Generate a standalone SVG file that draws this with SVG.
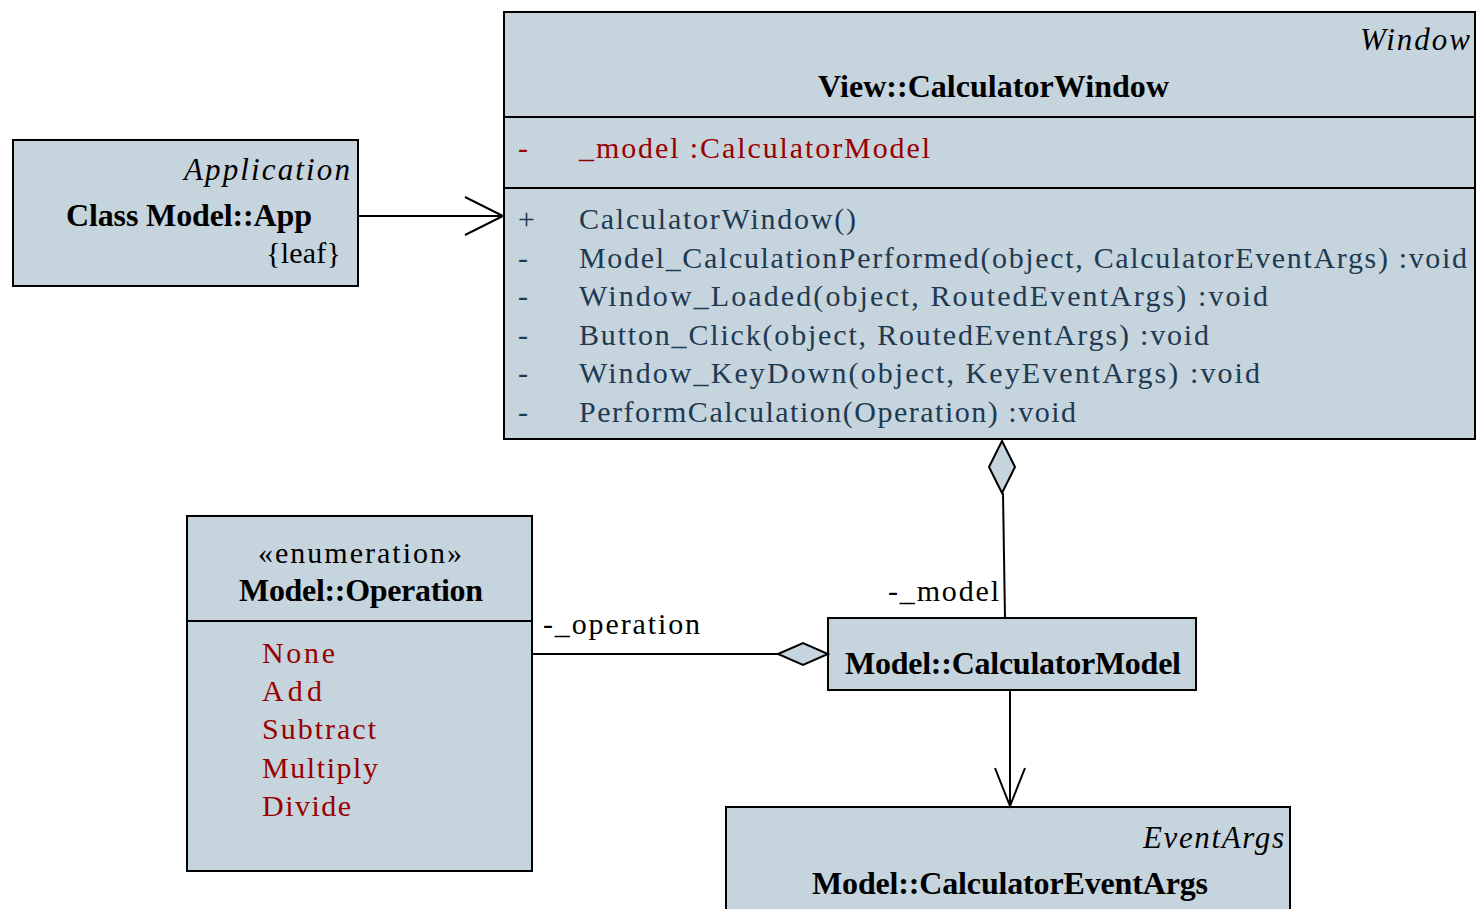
<svg xmlns="http://www.w3.org/2000/svg" width="1476" height="909" viewBox="0 0 1476 909">
<style>
.box{fill:#C6D4DD;stroke:#000;stroke-width:2}
.sep{stroke:#000;stroke-width:2}
text{font-family:"Liberation Serif","Times New Roman",serif;font-size:30px}
.it{font-style:italic;font-size:31px;fill:#000}
.b{font-weight:bold;font-size:32px;fill:#000}
.reg{fill:#000}
.attr{fill:#990000}
.op{fill:#1E3A52}
.con{stroke:#000;stroke-width:2;fill:none}
.dia{stroke:#000;stroke-width:2;fill:#C6D4DD}
</style>
<rect width="1476" height="909" fill="#fff"/>
<g id="app">
<rect class="box" x="13" y="140" width="345" height="146"/>
<text class="it" x="184" y="180" textLength="166" lengthAdjust="spacing">Application</text>
<text class="b" x="66" y="226" textLength="246" lengthAdjust="spacing">Class Model::App</text>
<text class="reg" x="266" y="263" textLength="75" lengthAdjust="spacing">{leaf}</text>
</g>
<g id="calculatorWindow">
<rect class="box" x="504" y="12" width="971" height="427"/>
<line class="sep" x1="504" y1="117" x2="1476" y2="117"/>
<line class="sep" x1="504" y1="188" x2="1476" y2="188"/>
<text class="it" x="1360" y="50" textLength="110" lengthAdjust="spacing">Window</text>
<text class="b" x="818" y="97" textLength="351" lengthAdjust="spacing">View::CalculatorWindow</text>
<text class="attr" x="518" y="158">-</text>
<text class="attr" x="579" y="158" textLength="351" lengthAdjust="spacing">_model :CalculatorModel</text>
<text class="op" x="518" y="229">+</text>
<text class="op" x="579" y="229" textLength="277" lengthAdjust="spacing">CalculatorWindow()</text>
<text class="op" x="518" y="268">-</text>
<text class="op" x="579" y="268" textLength="888" lengthAdjust="spacing">Model_CalculationPerformed(object, CalculatorEventArgs) :void</text>
<text class="op" x="518" y="306">-</text>
<text class="op" x="579" y="306" textLength="689" lengthAdjust="spacing">Window_Loaded(object, RoutedEventArgs) :void</text>
<text class="op" x="518" y="345">-</text>
<text class="op" x="579" y="345" textLength="630" lengthAdjust="spacing">Button_Click(object, RoutedEventArgs) :void</text>
<text class="op" x="518" y="383">-</text>
<text class="op" x="579" y="383" textLength="681" lengthAdjust="spacing">Window_KeyDown(object, KeyEventArgs) :void</text>
<text class="op" x="518" y="422">-</text>
<text class="op" x="579" y="422" textLength="497" lengthAdjust="spacing">PerformCalculation(Operation) :void</text>
</g>
<g id="operation">
<rect class="box" x="187" y="516" width="345" height="355"/>
<line class="sep" x1="187" y1="621" x2="532" y2="621"/>
<text class="reg" x="258" y="563" textLength="204" lengthAdjust="spacing">«enumeration»</text>
<text class="b" x="239" y="601" textLength="244" lengthAdjust="spacing">Model::Operation</text>
<text class="attr" x="262" y="663" textLength="73" lengthAdjust="spacing">None</text>
<text class="attr" x="262" y="701" textLength="60" lengthAdjust="spacing">Add</text>
<text class="attr" x="262" y="739" textLength="114" lengthAdjust="spacing">Subtract</text>
<text class="attr" x="262" y="778" textLength="116" lengthAdjust="spacing">Multiply</text>
<text class="attr" x="262" y="816" textLength="89" lengthAdjust="spacing">Divide</text>
</g>
<g id="calculatorModel">
<rect class="box" x="828" y="618" width="368" height="72"/>
<text class="b" x="845" y="674" textLength="336" lengthAdjust="spacing">Model::CalculatorModel</text>
</g>
<g id="calculatorEventArgs">
<rect class="box" x="726" y="807" width="564" height="120"/>
<text class="it" x="1143" y="848" textLength="141" lengthAdjust="spacing">EventArgs</text>
<text class="b" x="812" y="894" textLength="396" lengthAdjust="spacing">Model::CalculatorEventArgs</text>
</g>
<g id="connectors">
<line class="con" x1="358" y1="216" x2="503" y2="216"/>
<polyline class="con" points="465,197 503,216 465,235"/>
<polygon class="dia" points="1002,441 1015,467 1002,493 989,467"/>
<line class="con" x1="1003" y1="493" x2="1005" y2="618"/>
<text class="reg" x="888" y="601" textLength="111" lengthAdjust="spacing">-_model</text>
<line class="con" x1="533" y1="654" x2="778" y2="654"/>
<polygon class="dia" points="778,654 803,643 828,654 803,665"/>
<text class="reg" x="543" y="634" textLength="157" lengthAdjust="spacing">-_operation</text>
<line class="con" x1="1010" y1="690" x2="1010" y2="806"/>
<polyline class="con" points="995,768 1010,806 1025,768"/>
</g>
</svg>
